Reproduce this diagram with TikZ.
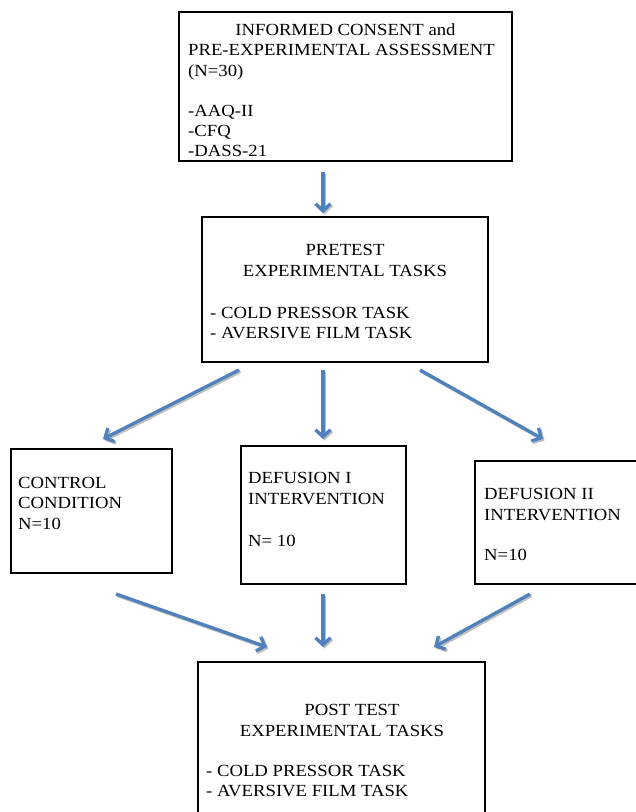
\documentclass[tikz,border=0pt]{standalone}
\usepackage{fontspec}
\setmainfont{Liberation Serif}[FakeStretch=1.1]
\usetikzlibrary{arrows.meta}
\definecolor{flowblue}{RGB}{79,129,189}
\begin{document}
\begin{tikzpicture}[x=1pt,y=-1pt,
  box/.style={draw=black,line width=1.3pt,anchor=north west,inner sep=0pt,outer sep=0pt},
  txt/.style={inner sep=0pt,font=\fontsize{17}{20}\selectfont},
  lt/.style={txt,anchor=base west},
  ct/.style={txt,anchor=base},
  flow/.style={draw=flowblue,line width=3.3pt,-{Straight Barb[length=7pt,width=15pt]}},
  shadowline/.style={draw=black!25,line width=3.3pt,-{Straight Barb[length=7pt,width=15pt]}}]
\useasboundingbox (0,0) rectangle (636,812);
\clip (0,0) rectangle (636,812);
\fill[white] (0,0) rectangle (636,812);

% boxes
\node[box,minimum width=333,minimum height=149] (b1) at (179,12) {};
\node[box,minimum width=286,minimum height=145] (b2) at (202,217) {};
\node[box,minimum width=161,minimum height=124] (c1) at (11,449) {};
\node[box,minimum width=165,minimum height=138] (c2) at (241,446) {};
\node[box,minimum width=180,minimum height=123] (c3) at (475,461) {};
\node[box,minimum width=287,minimum height=170] (b3) at (198,662) {};

% box 1 text
\node[ct] (t11) at (345.5,35) {INFORMED CONSENT and};
\node[lt] (t12) at (188,55.5) {PRE-EXPERIMENTAL ASSESSMENT};
\node[lt] (t13) at (188,76) {(N=30)};
\node[lt] (t14) at (188,116) {-AAQ-II};
\node[lt] (t15) at (188,136) {-CFQ};
\node[lt] (t16) at (188,156) {-DASS-21};

% box 2 text
\node[ct] (t21) at (345,255) {PRETEST};
\node[ct] (t22) at (345,276) {EXPERIMENTAL TASKS};
\node[lt] (t23) at (210,318) {- COLD PRESSOR TASK};
\node[lt] (t24) at (210,338) {- AVERSIVE FILM TASK};

% condition boxes text
\node[lt] (tc11) at (18,488) {CONTROL};
\node[lt] (tc12) at (18,508.5) {CONDITION};
\node[lt] (tc13) at (18,529) {N=10};
\node[lt] (tc21) at (248,483) {DEFUSION I};
\node[lt] (tc22) at (248,504) {INTERVENTION};
\node[lt] (tc23) at (248,546) {N= 10};
\node[lt] (tc31) at (484,499) {DEFUSION II};
\node[lt] (tc32) at (484,520) {INTERVENTION};
\node[lt] (tc33) at (484,560) {N=10};

% box 3 text
\node[ct] (t31) at (352,715) {POST TEST};
\node[ct] (t32) at (342,736) {EXPERIMENTAL TASKS};
\node[lt] (t33) at (206,776) {- COLD PRESSOR TASK};
\node[lt] (t34) at (206,796) {- AVERSIVE FILM TASK};

% arrow end points
\coordinate (a0s) at (323,172); \coordinate (a0e) at (323,213);
\coordinate (a1s) at (239,370); \coordinate (a1e) at (103,439);
\coordinate (a2s) at (323,370); \coordinate (a2e) at (323,439);
\coordinate (a3s) at (420,370); \coordinate (a3e) at (543,439);
\coordinate (a4s) at (116,594); \coordinate (a4e) at (267,647);
\coordinate (a5s) at (323,594); \coordinate (a5e) at (323,647);
\coordinate (a6s) at (530,594); \coordinate (a6e) at (434,647);

\foreach \s/\e in {a0s/a0e,a1s/a1e,a2s/a2e,a3s/a3e,a4s/a4e,a5s/a5e,a6s/a6e}{
  \draw[shadowline] ([shift={(1.5,1.5)}]\s) -- ([shift={(1.5,1.5)}]\e);
  \draw[flow] (\s) -- (\e);
}
\end{tikzpicture}
\end{document}
